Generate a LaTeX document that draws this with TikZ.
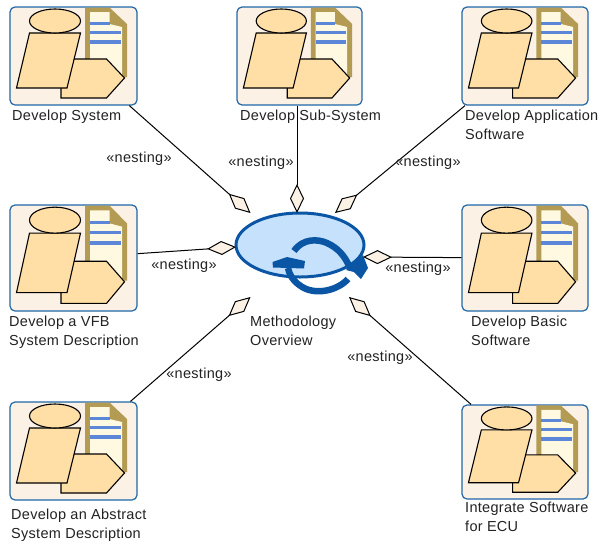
\documentclass[tikz,border=0pt]{standalone}
\usepackage{fontspec}
\setmainfont[LetterSpace=2]{Liberation Sans}
\usetikzlibrary{arrows.meta,calc,shapes.geometric}
\definecolor{boxfill}{HTML}{FBF1E4}
\definecolor{boxline}{HTML}{1F67A8}
\definecolor{peach}{HTML}{FFDFA6}
\definecolor{gold}{HTML}{B39B54}
\definecolor{paper}{HTML}{FFF9E1}
\definecolor{rule}{HTML}{5C86D8}
\definecolor{ovalfill}{HTML}{C6E1FB}
\definecolor{ovalline}{HTML}{0B56A4}
\definecolor{txt}{HTML}{222222}
\tikzset{
 boxst/.style={draw=boxline,fill=boxfill,line width=1.2pt,rounded corners=5pt,inner sep=0pt},
 part/.style={draw=black,fill=peach,line width=1.1pt,line join=miter},
 lab/.style={font=\fontsize{14.5}{19}\selectfont,text=txt,inner sep=0pt,align=left,anchor=north west},
 nest/.style={font=\fontsize{14.5}{16}\selectfont,text=txt,inner sep=0pt},
 conn/.style={draw=black,line width=1pt,-{Diamond[length=29pt,width=14pt,fill=boxfill,line width=1pt]}},
}
% name, x, y, w, h
\newcommand{\iconbox}[5]{%
 \node[boxst,minimum width=#4pt,minimum height=#5pt] (#1) at (#2+#4/2,#3+#5/2) {};
 \begin{scope}[shift={(#2,#3)},xscale=#4/127,yscale=#5/98]
  \fill[gold] (75,0.5) -- (99.5,0.5) -- (117,17) -- (117,70) -- (75,70) -- cycle;
  \fill[paper] (80,5) -- (99.5,5) -- (99.5,17) -- (112,20) -- (112,68) -- (80,68) -- cycle;
  \fill[rule] (80,14.5) rectangle (99.5,17.5);
  \fill[rule] (80,24) rectangle (111,27);
  \fill[rule] (80,33) rectangle (111,37);
  \draw[part] (60,52) -- (96.5,52) -- (114.5,71) -- (96.5,91) -- (51,91) -- (51,81) -- cycle;
  \draw[part] (19.5,26) -- (70.5,26) -- (57,81) -- (6.5,81) -- cycle;
  \draw[part] (45,14) ellipse (25.5 and 12);
 \end{scope}
}
\begin{document}
\begin{tikzpicture}[x=1pt,y=-1pt]
\useasboundingbox (0,0) rectangle (601,544);
\iconbox{b1}{10}{7}{127}{98}
\iconbox{b2}{237}{7}{125}{98}
\iconbox{b3}{462}{7}{126}{98}
\iconbox{b4}{10}{205}{127}{106}
\iconbox{b5}{462}{205}{126}{106}
\iconbox{b6}{10}{402}{127}{98}
\iconbox{b7}{462}{405}{126}{94}
% central
\node[draw=ovalline,fill=ovalfill,line width=3pt,ellipse,minimum width=128pt,minimum height=64pt,inner sep=0pt] (m) at (300,245) {};
\begin{scope}
 \draw[ovalline,line width=6.5pt] (294,251) .. controls (303,238) and (318,239) .. (327,243) .. controls (338,248) and (345,256) .. (350,268);
 \fill[ovalline] (346,270) -- (363,255) -- (368,268) -- (361,279) -- (354,272) -- cycle;
 \draw[ovalline,line width=6.5pt] (348,279) .. controls (338,290) and (318,295) .. (304,288) .. controls (295,283) and (290,277) .. (288,268);
 \fill[ovalline] (272.5,262) -- (287,257) -- (305,261) -- (304,268.5) -- (273,267.5) -- cycle;
\end{scope}
\coordinate (t1) at (250.5,213);
\coordinate (t2) at (297,213);
\coordinate (t3) at (335,213);
\coordinate (t4) at (236,247);
\coordinate (t5) at (363,257);
\coordinate (t6) at (250.5,297);
\coordinate (t7) at (349,297);
\path[conn] (b1) -- (t1);
\path[conn] (b2.south -| t2) -- (t2);
\path[conn] (b3) -- (t3);
\path[conn] (b4) -- (t4);
\path[conn] (b5) -- (t5);
\path[conn] (b6) -- (t6);
\path[conn] (b7) -- (t7);
\node[lab] (l1) at (12,110) {Develop System};
\node[lab] (l2) at (240,110) {Develop Sub-System};
\node[lab] (l3) at (465,110) {Develop Application\\Software};
\node[lab] (l4) at (9,316) {Develop a VFB\\System Description};
\node[lab] (l5) at (471,316) {Develop Basic\\Software};
\node[lab] (l6) at (11,509) {Develop an Abstract\\System Description};
\node[lab] (l7) at (465,502) {Integrate Software\\for ECU};
\node[lab] (lm) at (250,316) {Methodology\\Overview};
\node[nest] (n1) at (139,159) {«nesting»};
\node[nest] (n2) at (261,163) {«nesting»};
\node[nest] (n3) at (428,163) {«nesting»};
\node[nest] (n4) at (184,266) {«nesting»};
\node[nest] (n5) at (418,269) {«nesting»};
\node[nest] (n6) at (199,375) {«nesting»};
\node[nest] (n7) at (380,358) {«nesting»};
\end{tikzpicture}
\end{document}
